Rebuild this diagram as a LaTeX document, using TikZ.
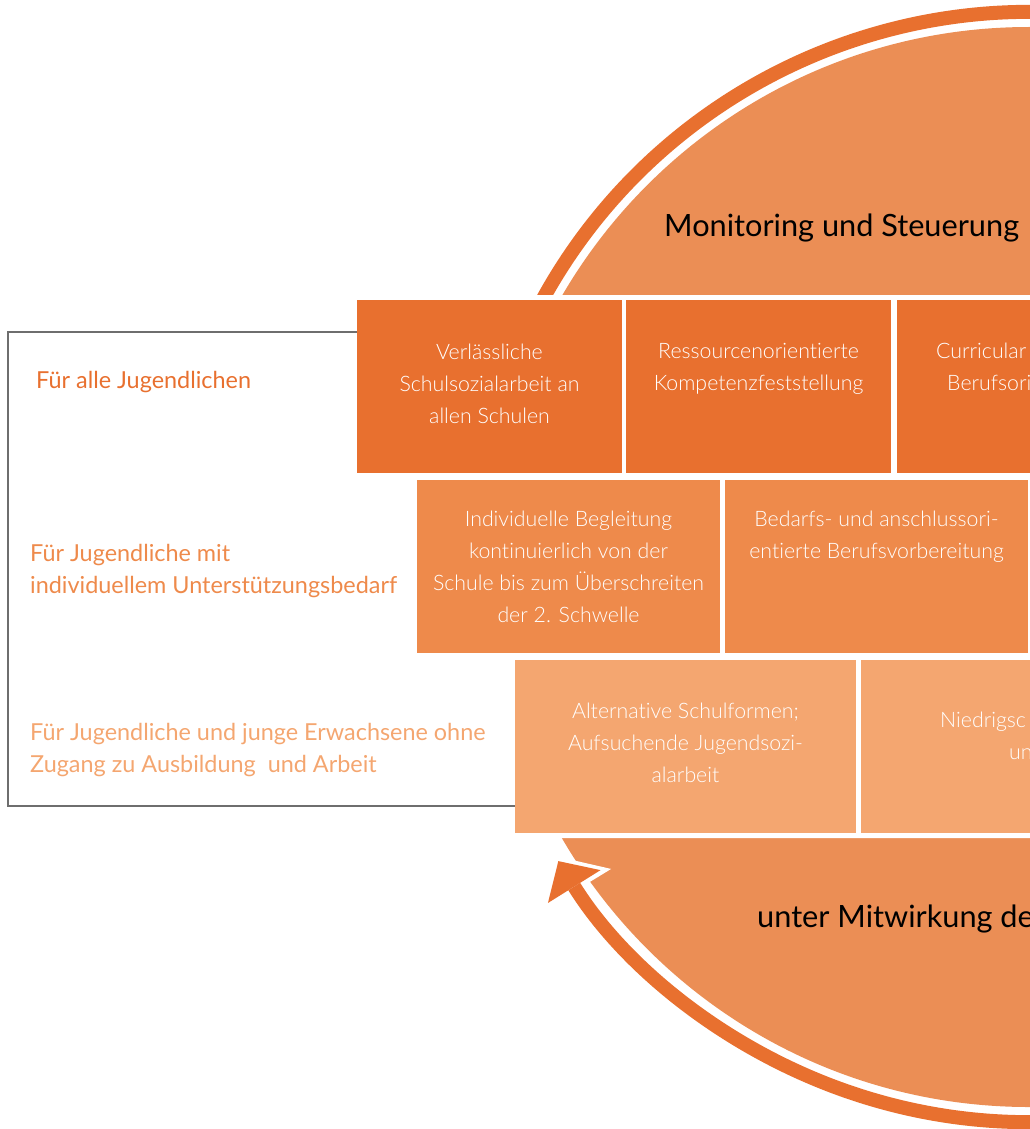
\documentclass[tikz,border=0pt]{standalone}
\usepackage{fontspec}
\setmainfont{Lato}[Ligatures=NoCommon]
\newfontfamily\lightfont{Lato Light}[Ligatures=NoCommon]
\usepackage{xcolor}
\usetikzlibrary{positioning,arrows.meta}
\definecolor{rowone}{RGB}{232,112,47}
\definecolor{rowtwo}{RGB}{238,138,75}
\definecolor{rowthree}{RGB}{244,166,112}
\definecolor{circfill}{RGB}{235,142,85}
\definecolor{framegray}{RGB}{110,110,110}

\begin{document}
\begin{tikzpicture}[x=1pt, y=1pt,
			cell/.style = {rectangle, anchor=north west, minimum height=173pt, inner sep=0pt, outer sep=0pt},
			celltext/.style = {text=white, align=center, anchor=base, inner sep=0pt, font=\lightfont\fontsize{21.3}{32}\selectfont},
			group/.style = {align=left, anchor=base west, inner sep=0pt, font=\fontsize{23.4}{31.5}\selectfont},
			big/.style = {anchor=base west, inner sep=0pt, font=\fontsize{30.7}{36}\selectfont}]
	\useasboundingbox (0,0) rectangle (1030,-1129);
	\clip (0,0) rectangle (1030,-1129);
	\coordinate (ctr) at (1029,-567);
	\fill[circfill] (ctr) circle[radius=540pt];
	\draw[white, line width=22pt, -{Triangle[length=40pt,width=82pt,line width=0pt]}] (ctr) ++(160:555pt) arc[start angle=160, end angle=-148.6, radius=555pt];
	\draw[rowone, line width=14pt, -{Triangle[length=30pt,width=62pt,line width=0pt]}] (ctr) ++(160:555pt) arc[start angle=160, end angle=-148, radius=555pt];
	\fill[white] (352,-295) -- (1030,-295) -- (1030,-838) -- (480,-838) -- (480,-656) -- (412,-656) -- (412,-476) -- (352,-476) -- cycle;

	\node[cell, fill=rowone, minimum width=265pt] (vsa) at (357,-300) {};
	\node[cell, fill=rowone, minimum width=265pt] (rko) at (626,-300) {};
	\node[cell, fill=rowone, minimum width=140pt] (cbo) at (897,-300) {};
	\node[cell, fill=rowtwo, minimum width=303pt] (ibg) at (417,-480) {};
	\node[cell, fill=rowtwo, minimum width=303pt] (abv) at (725,-480) {};
	\node[cell, fill=rowthree, minimum width=341pt] (asf) at (515,-660) {};
	\node[cell, fill=rowthree, minimum width=175pt] (nsa) at (861,-660) {};

	\coordinate (ftop) at (8,-332);
	\coordinate (fbot) at (8,-806);
	\draw[framegray, line width=1.3pt] (ftop -| vsa.west) -- (ftop) -- (fbot) -- (fbot -| asf.west);

	\node[group, text=rowone] (alle) at (36,-388) {Für alle Jugendlichen};
	\node[group, text=rowtwo] (indiv) at (30,-593) {Für Jugendliche mit\\individuellem Unterstützungsbedarf};
	\node[group, text=rowthree] (ohne) at (30,-772) {Für Jugendliche und junge Erwachsene ohne\\Zugang zu Ausbildung \ und Arbeit};

	\node[celltext] (vsa-t) at (vsa.north |- 0,-423) {Verlässliche\\Schulsozialarbeit an\\allen Schulen};
	\node[celltext] (rko-t) at (rko.north |- 0,-390) {Ressourcenorientierte\\Kompetenzfeststellung};
	\node[celltext, align=left, anchor=base west] (cbo-t) at (936,-390) {Curricular\\\hspace*{11pt}Berufsori};
	\node[celltext] (ibg-t) at (ibg.north |- 0,-622) {Individuelle Begleitung\\kontinuierlich von der\\Schule bis zum Überschreiten\\der 2. Schwelle};
	\node[celltext] (abv-t) at (abv.north |- 0,-558) {Bedarfs- und anschlussori-\\entierte Berufsvorbereitung};
	\node[celltext] (asf-t) at (asf.north |- 0,-782) {Alternative Schulformen;\\Aufsuchende Jugendsozi-\\alarbeit};
	\node[celltext, align=left, anchor=base west] (nsa-t) at (940,-759) {Niedrigsc\\\hspace*{69pt}un};

	\node[big] (mon) at (664,-236) {Monitoring und Steuerung};
	\node[big] (mit) at (757,-927) {unter Mitwirkung de};
\end{tikzpicture}
\end{document}
